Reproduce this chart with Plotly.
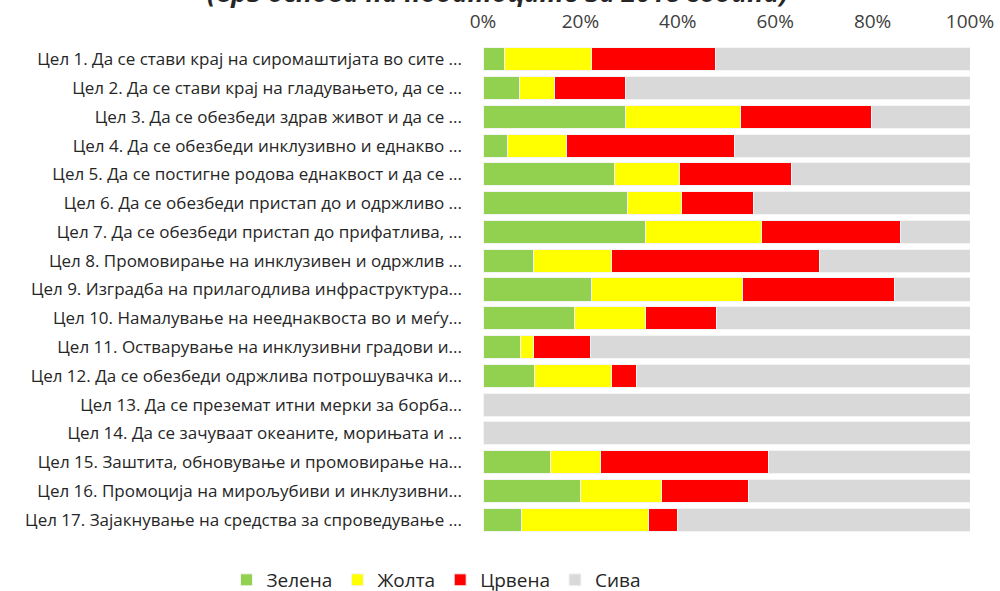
import plotly.graph_objects as go

goals = [
    "Цел 1. Да се стави крај на сиромаштијата во сите ...",
    "Цел 2. Да се стави крај на гладувањето, да се ...",
    "Цел 3. Да се обезбеди здрав живот и да се ...",
    "Цел 4. Да се обезбеди инклузивно и еднакво ...",
    "Цел 5. Да се постигне родова еднаквост и да се ...",
    "Цел 6. Да се обезбеди пристап до и одржливо ...",
    "Цел 7. Да се обезбеди пристап до прифатлива, ...",
    "Цел 8. Промовирање на инклузивен и одржлив ...",
    "Цел 9. Изградба на прилагодлива инфраструктура...",
    "Цел 10. Намалување на нееднаквоста во и меѓу...",
    "Цел 11. Остварување на инклузивни градови и...",
    "Цел 12. Да се обезбеди одржлива потрошувачка и...",
    "Цел 13. Да се преземат итни мерки за борба...",
    "Цел 14. Да се зачуваат океаните, морињата и ...",
    "Цел 15. Заштита, обновување и промовирање на...",
    "Цел 16. Промоција на мирољубиви и инклузивни...",
    "Цел 17. Зајакнување на средства за спроведување ...",
]

# shares in percent per goal
green  = [4.5, 7.4, 29.2, 5.0, 26.9, 29.7, 33.3, 10.3, 22.2, 18.8, 7.8, 10.5, 0, 0, 13.8, 20.0, 8.0]
yellow = [17.8, 7.2, 23.6, 12.1, 13.4, 11.1, 23.8, 16.1, 31.1, 14.6, 2.6, 15.8, 0, 0, 10.3, 16.7, 26.0]
red    = [25.5, 14.7, 26.9, 34.6, 23.0, 14.8, 28.6, 42.6, 31.1, 14.5, 11.7, 5.3, 0, 0, 34.5, 17.8, 6.0]
grey   = [52.2, 70.7, 20.3, 48.3, 36.7, 44.4, 14.3, 31.0, 15.6, 52.1, 77.9, 68.4, 100, 100, 41.4, 45.5, 60.0]

tick_vals = [0, 20, 40, 60, 80, 100]
tick_text = ["0%", "20%", "40%", "60%", "80%", "100%"]

series = [
    ("Зелена", green, "#92D050"),
    ("Жолта", yellow, "#FFFF00"),
    ("Црвена", red, "#FF0000"),
    ("Сива", grey, "#D9D9D9"),
]

fig = go.Figure()
for name, vals, color in series:
    fig.add_trace(go.Bar(
        y=goals, x=vals, name=name, orientation="h",
        marker=dict(color=color, line=dict(color="#F4F4F4", width=1)),
        hoverinfo="x+y",
    ))

fig.update_layout(
    width=1000, height=591,
    barmode="stack", bargap=0.2,
    margin=dict(l=483, r=30, t=45, b=57, autoexpand=False),
    paper_bgcolor="white", plot_bgcolor="white",
    font=dict(family="Open Sans", color="#262626", size=17),
    showlegend=True,
    legend=dict(
        orientation="h", x=-0.0965, xanchor="center",
        y=-0.094, yanchor="middle",
        font=dict(size=19, color="#262626"),
        traceorder="normal", itemwidth=30,
    ),
    xaxis=dict(
        side="top", range=[0, 100], tickvals=tick_vals, ticktext=tick_text,
        showgrid=False, zeroline=False, showline=False, ticks="",
        tickfont=dict(size=19, color="#404040"), ticklabelstandoff=12,
        fixedrange=True, automargin=False,
    ),
    yaxis=dict(
        categoryorder="array", categoryarray=goals, autorange="reversed",
        showgrid=False, zeroline=False, showline=False, ticks="",
        tickfont=dict(size=17, color="#262626"), ticklabelstandoff=20,
        fixedrange=True, automargin=False,
    ),
    annotations=[dict(
        text="<b><i>(врз основа на податоците за 2018 година)</i></b>",
        xref="paper", yref="paper", x=0.03, y=1.108,
        xanchor="center", yanchor="middle", showarrow=False,
        font=dict(size=26.5, color="#262626", family="Open Sans"),
    )],
)

fig.write_html("out.html")
